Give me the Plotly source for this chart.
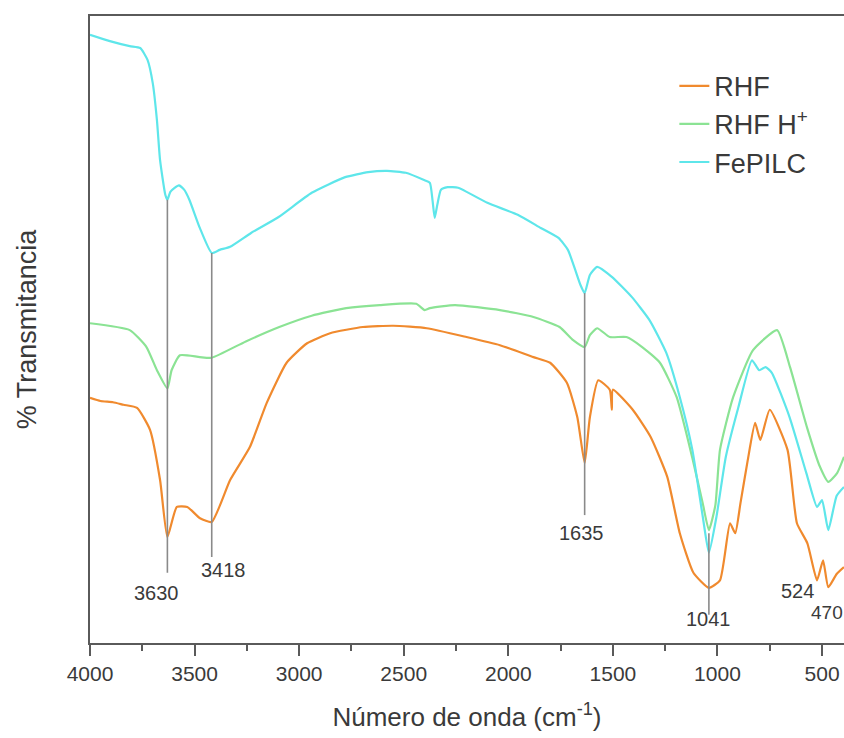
import plotly.graph_objects as go

# ---------------- data ----------------
fepilc_wn = [4000, 3905, 3810, 3760, 3725, 3700, 3680, 3665, 3640, 3630, 3615, 3575, 3550, 3525,
             3475, 3418, 3380, 3330, 3230, 3100, 2940, 2780, 2670, 2580, 2490, 2400, 2375, 2362,
             2352, 2340, 2322, 2290, 2240, 2100, 1955, 1845, 1760, 1715, 1680, 1655, 1635, 1610,
             1575, 1505, 1410, 1325, 1245, 1180, 1120, 1070, 1041, 1005, 960, 900, 835, 800, 770,
             740, 655, 575, 524, 500, 470, 430, 395]
fepilc_t = [97.0, 96.0, 95.2, 94.9, 93.0, 89.3, 83.4, 77.0, 71.5, 70.7, 72.0, 73.0, 72.3, 70.7,
            66.2, 62.2, 62.7, 63.2, 65.4, 67.9, 71.8, 74.3, 75.1, 75.3, 75.0, 73.8, 73.4, 70.5,
            67.8, 69.8, 72.3, 72.7, 72.6, 70.2, 68.3, 66.2, 64.6, 62.7, 59.5, 57.1, 55.8, 58.7,
            60.0, 58.4, 55.2, 51.5, 46.3, 39.2, 30.8, 20.1, 14.4, 20.1, 29.7, 37.6, 45.1, 43.5, 44.0,
            43.1, 36.0, 27.1, 21.7, 22.8, 18.0, 23.5, 24.9]

rhfh_wn = [4000, 3810, 3730, 3680, 3630, 3610, 3570, 3475, 3418, 3255, 3095, 2940, 2775, 2615,
           2440, 2400, 2375, 2255, 2040, 1880, 1755, 1690, 1635, 1610, 1575, 1515, 1435, 1360,
           1275, 1195, 1120, 1070, 1041, 1010, 988, 925, 830, 715, 653, 572, 510, 470, 428, 395]
rhfh_t = [51.0, 49.9, 47.2, 43.5, 40.6, 43.5, 45.9, 45.6, 45.5, 48.1, 50.4, 52.2, 53.4, 53.9,
          54.1, 53.1, 53.4, 53.9, 53.1, 52.0, 50.4, 48.3, 47.2, 49.1, 50.2, 48.8, 48.8, 47.2,
          44.7, 39.2, 29.5, 22.2, 18.0, 22.0, 30.8, 39.2, 46.7, 49.9, 44.0, 34.4, 28.1, 25.7, 27.1, 29.7]

rhf_wn = [4000, 3950, 3890, 3840, 3775, 3713, 3665, 3630, 3585, 3535, 3474, 3418, 3330, 3235,
          3155, 3060, 2962, 2852, 2695, 2550, 2390, 2200, 2040, 1880, 1800, 1720, 1670, 1635,
          1610, 1570, 1515, 1505, 1500, 1405, 1320, 1240, 1180, 1115, 1041, 988, 940, 915, 890,
          855, 820, 795, 750, 665, 620, 570, 524, 495, 470, 430, 395]
rhf_t = [39.1, 38.6, 38.4, 38.0, 37.5, 34.0, 26.0, 16.9, 21.7, 21.7, 19.9, 19.3, 26.0, 31.3,
         38.3, 44.7, 47.8, 49.4, 50.4, 50.6, 50.2, 48.8, 47.5, 45.6, 44.7, 41.5, 36.0, 28.7,
         36.0, 41.9, 40.4, 37.2, 40.4, 37.2, 32.9, 26.5, 17.5, 11.2, 8.8, 10.0, 19.1, 17.5, 22.3,
         29.2, 35.1, 32.4, 37.2, 30.8, 19.1, 15.9, 10.0, 13.2, 8.9, 11.0, 12.1]

# peak marker lines (wavenumber, top, bottom)
mark_wn = [3630, 3418, 1635, 1041]
mark_top = [70.7, 62.2, 55.8, 17.5]
mark_bot = [11.2, 13.7, 20.4, 4.5]

# peak labels
lab_text = ["3630", "3418", "1635", "1041", "524", "470"]
lab_wn = [3680, 3364, 1652, 1045, 619, 560]
lab_t = [8.0, 11.6, 17.5, 3.8, 8.3, 4.8]
lab_anchor = ["center", "center", "center", "center", "center", "left"]
lab_size = [20, 20, 20, 20, 20, 19]

names = ["RHF", "RHF H<sup>+</sup>", "FePILC"]
colors = ["#F08A2E", "#8BE394", "#5EE6EA"]

x_ticks = [4000, 3500, 3000, 2500, 2000, 1500, 1000, 500]
x_minor = [3750, 3250, 2750, 2250, 1750, 1250, 750]

# ---------------- figure ----------------
FONT = "Liberation Sans, Arial, sans-serif"
TXT = "#3a3a3a"
AX = "#5a5a5a"

fig = go.Figure()
for wn, t, nm, c in zip([rhf_wn, rhfh_wn, fepilc_wn], [rhf_t, rhfh_t, fepilc_t], names, colors):
    fig.add_trace(go.Scatter(x=wn, y=t, mode="lines", name=nm,
                             line=dict(color=c, width=2.2, shape="spline", smoothing=0.5)))

for w, a, b in zip(mark_wn, mark_top, mark_bot):
    fig.add_trace(go.Scatter(x=[w, w], y=[a, b], mode="lines", showlegend=False,
                             line=dict(color="#8a8a8a", width=1.6), hoverinfo="skip"))

for s, w, t, an, sz in zip(lab_text, lab_wn, lab_t, lab_anchor, lab_size):
    fig.add_annotation(x=w, y=t, text=s, showarrow=False, xanchor=an, yanchor="middle",
                       font=dict(family=FONT, size=sz, color=TXT))

fig.update_layout(
    width=844, height=738,
    margin=dict(l=90, r=0, t=16, b=95),
    paper_bgcolor="white", plot_bgcolor="white",
    font=dict(family=FONT, color=TXT),
    showlegend=True,
    legend=dict(x=0.775, y=0.927, xanchor="left", yanchor="top",
                font=dict(family=FONT, size=27, color=TXT),
                bgcolor="rgba(0,0,0,0)", borderwidth=0),
    xaxis=dict(range=[4000, 395], tickmode="array", tickvals=x_ticks,
               ticktext=[str(v) for v in x_ticks],
               ticks="outside", ticklen=11, tickwidth=2, tickcolor=AX,
               showline=True, linecolor=AX, linewidth=2, mirror=True,
               showgrid=False, zeroline=False,
               minor=dict(tickvals=x_minor,
                          ticks="outside", ticklen=6, tickwidth=2, tickcolor=AX),
               tickfont=dict(family=FONT, size=21, color=TXT),
               title=dict(text="Número de onda (cm<sup>-1</sup>)",
                          font=dict(family=FONT, size=26, color=TXT), standoff=24)),
    yaxis=dict(range=[0, 100], showticklabels=False, ticks="",
               showline=True, linecolor=AX, linewidth=2,
               showgrid=False, zeroline=False,
               title=dict(text="% Transmitancia",
                          font=dict(family=FONT, size=27, color=TXT), standoff=44)),
)

fig.write_html("out.html")
